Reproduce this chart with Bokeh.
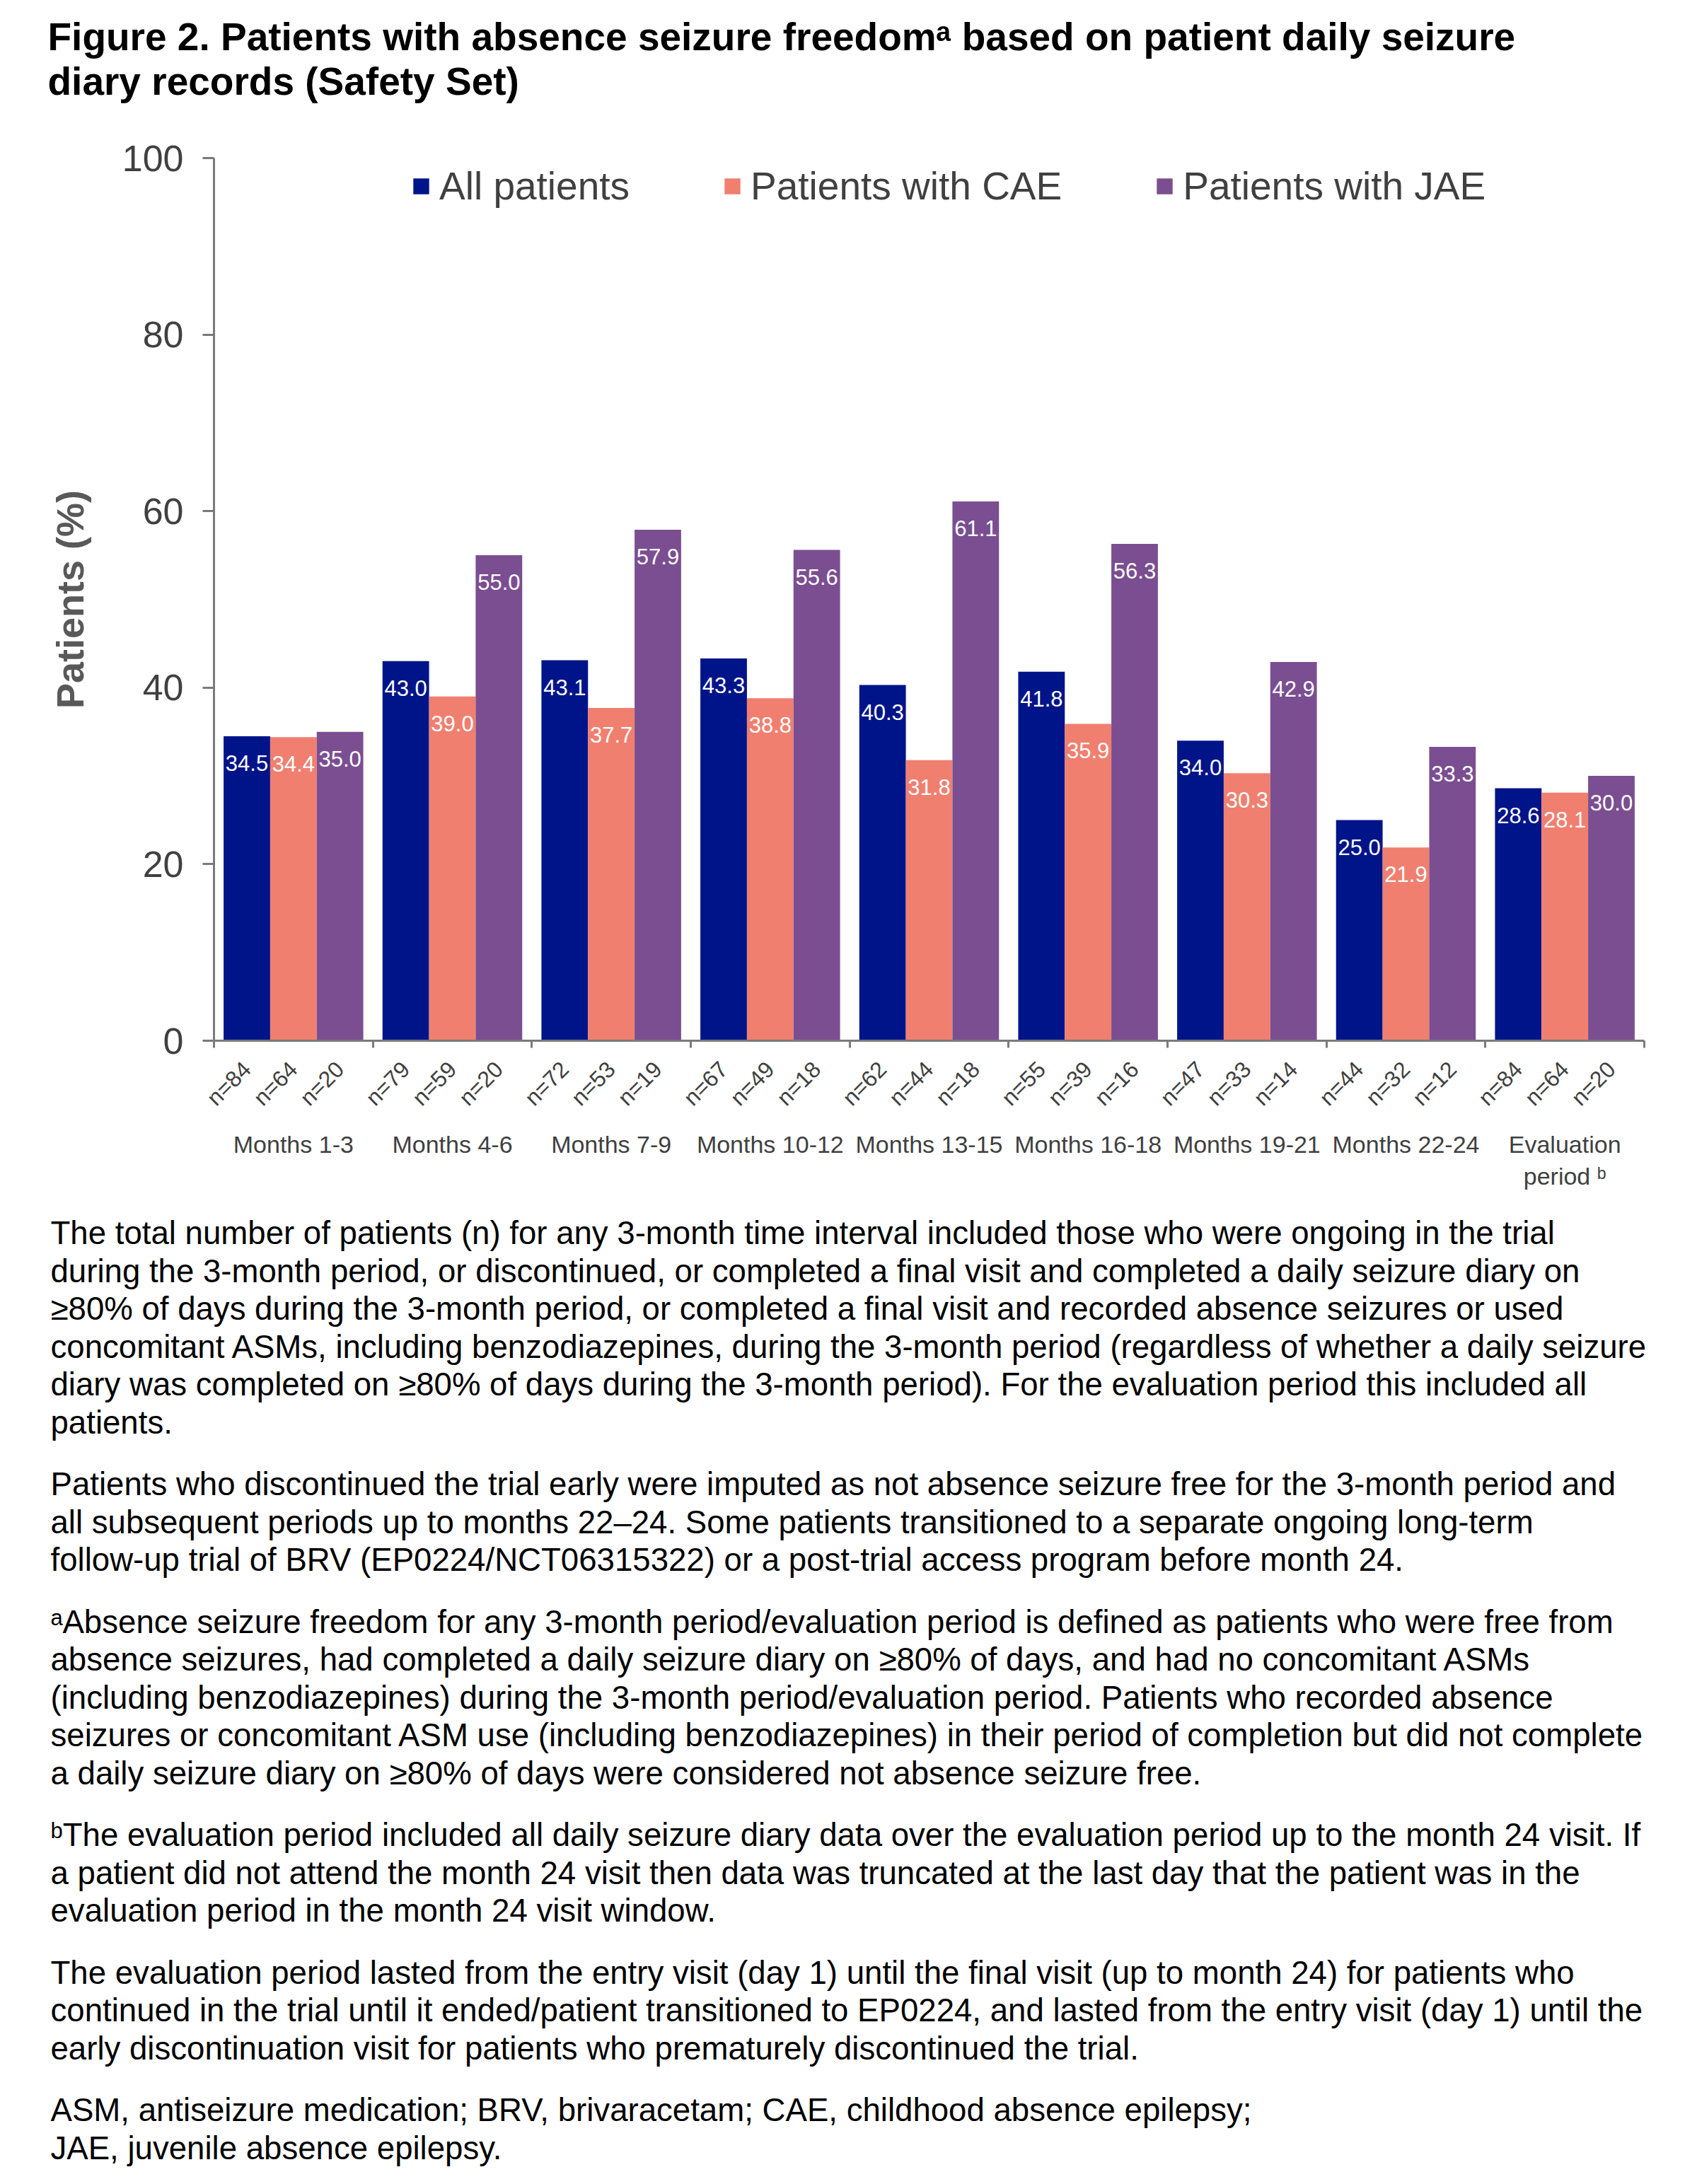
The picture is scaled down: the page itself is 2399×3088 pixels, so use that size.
import math
from bokeh.plotting import figure
from bokeh.layouts import column
from bokeh.models import ColumnDataSource, Range1d, FixedTicker, LabelSet, LinearAxis
from bokeh.core.properties import value
from bokeh.embed import file_html
from bokeh.resources import INLINE

# ---------------- data ----------------
groups = ["Months 1-3", "Months 4-6", "Months 7-9", "Months 10-12", "Months 13-15",
          "Months 16-18", "Months 19-21", "Months 22-24", "Evaluation\nperiod \u1d47"]
series = ["All patients", "Patients with CAE", "Patients with JAE"]
all_pct = [34.5, 43.0, 43.1, 43.3, 40.3, 41.8, 34.0, 25.0, 28.6]
cae_pct = [34.4, 39.0, 37.7, 38.8, 31.8, 35.9, 30.3, 21.9, 28.1]
jae_pct = [35.0, 55.0, 57.9, 55.6, 61.1, 56.3, 42.9, 33.3, 30.0]
all_n = [84, 79, 72, 67, 62, 55, 47, 44, 84]
cae_n = [64, 59, 53, 49, 44, 39, 33, 32, 64]
jae_n = [20, 20, 19, 18, 18, 16, 14, 12, 20]
y_ticks = [0, 20, 40, 60, 80, 100]

title_lines = [
    "Figure 2. Patients with absence seizure freedom\u1d43 based on patient daily seizure",
    "diary records (Safety Set)",
]
paragraphs = [
    ["The total number of patients (n) for any 3-month time interval included those who were ongoing in the trial",
     "during the 3-month period, or discontinued, or completed a final visit and completed a daily seizure diary on",
     "\u226580% of days during the 3-month period, or completed a final visit and recorded absence seizures or used",
     "concomitant ASMs, including benzodiazepines, during the 3-month period (regardless of whether a daily seizure",
     "diary was completed on \u226580% of days during the 3-month period). For the evaluation period this included all",
     "patients."],
    ["Patients who discontinued the trial early were imputed as not absence seizure free for the 3-month period and",
     "all subsequent periods up to months 22\u201324. Some patients transitioned to a separate ongoing long-term",
     "follow-up trial of BRV (EP0224/NCT06315322) or a post-trial access program before month 24."],
    ["\u1d43Absence seizure freedom for any 3-month period/evaluation period is defined as patients who were free from",
     "absence seizures, had completed a daily seizure diary on \u226580% of days, and had no concomitant ASMs",
     "(including benzodiazepines) during the 3-month period/evaluation period. Patients who recorded absence",
     "seizures or concomitant ASM use (including benzodiazepines) in their period of completion but did not complete",
     "a daily seizure diary on \u226580% of days were considered not absence seizure free."],
    ["\u1d47The evaluation period included all daily seizure diary data over the evaluation period up to the month 24 visit. If",
     "a patient did not attend the month 24 visit then data was truncated at the last day that the patient was in the",
     "evaluation period in the month 24 visit window."],
    ["The evaluation period lasted from the entry visit (day 1) until the final visit (up to month 24) for patients who",
     "continued in the trial until it ended/patient transitioned to EP0224, and lasted from the entry visit (day 1) until the",
     "early discontinuation visit for patients who prematurely discontinued the trial."],
    ["ASM, antiseizure medication; BRV, brivaracetam; CAE, childhood absence epilepsy;",
     "JAE, juvenile absence epilepsy."],
]

# ---------------- style / layout ----------------
FONT = "Liberation Sans"
colors = ["#001489", "#F07F6F", "#7B4E91"]
AXIS_GREY = "#7a7a7a"
TEXT_GREY = "#404040"
BAR_W = 0.293                      # bar width as a fraction of a group slot

W = 2381
HT, HC, HN = 175, 1530, 1375       # heights of title strip, chart, notes strip
PL, PT, PR, PB = 302, 223, 2324, 1471   # chart frame on the page


def text_strip(height):
    f = figure(width=W, height=height, x_range=Range1d(0, W), y_range=Range1d(height, 0),
               output_backend="svg", toolbar_location=None, x_axis_location=None,
               y_axis_location=None, title_location=None, min_border=0,
               frame_align=False)
    f.outline_line_color = None
    f.grid.visible = False
    return f


# ---- title strip ----
tf = text_strip(HT)
t_src = ColumnDataSource(dict(x=[67, 67], y=[70.7, 133], t=title_lines))
tf.add_layout(LabelSet(x="x", y="y", text="t", source=t_src, text_font=value(FONT),
                       text_font_size="55px", text_font_style="bold", text_color="black",
                       text_baseline="alphabetic", text_align="left"))

# ---- chart ----
ng = len(groups)
p = figure(x_range=Range1d(0, ng), y_range=Range1d(0, 100), width=W, height=HC,
           output_backend="svg", toolbar_location=None, title_location=None,
           min_border_left=PL, min_border_top=PT - HT, min_border_right=W - PR,
           min_border_bottom=HT + HC - PB, frame_align=False)
p.outline_line_color = None
p.grid.visible = False

values = [all_pct, cae_pct, jae_pct]
counts = [all_n, cae_n, jae_n]
lab_x, lab_y, lab_t, n_t = [], [], [], []
for j, (s, vals, ns, c) in enumerate(zip(series, values, counts, colors)):
    xs = [i + 0.5 + (j - 1) * BAR_W for i in range(ng)]
    src = ColumnDataSource(dict(x=xs, top=vals))
    p.vbar(x="x", top="top", width=BAR_W, source=src, fill_color=c,
           line_color=None, legend_label=s)
    lab_x += xs
    lab_y += vals
    lab_t += ["%.1f" % v for v in vals]
    n_t += ["n=%d" % n for n in ns]

val_src = ColumnDataSource(dict(x=lab_x, y=lab_y, t=lab_t))
p.add_layout(LabelSet(x="x", y="y", text="t", source=val_src, y_offset=-49,
                      text_align="center", text_baseline="alphabetic",
                      text_font=value(FONT), text_font_size="31px", text_color="white"))

# x axis: line with ticks at the group boundaries
bticks = list(range(ng + 1))
xa = p.xaxis[0]
xa.ticker = FixedTicker(ticks=bticks)
xa.major_label_overrides = {t: "" for t in bticks}
xa.major_label_text_color = None
xa.major_label_text_font_size = "1px"
xa.major_label_standoff = 0
xa.axis_line_color = AXIS_GREY
xa.axis_line_width = 3
xa.major_tick_line_color = AXIS_GREY
xa.major_tick_line_width = 3
xa.major_tick_in = 0
xa.major_tick_out = 10
xa.minor_tick_line_color = None

# second row: patient numbers under each bar
nax = LinearAxis(ticker=FixedTicker(ticks=lab_x),
                 major_label_overrides=dict(zip(lab_x, n_t)),
                 major_label_orientation=math.pi / 4)
# third row: period names
gx = [i + 0.5 for i in range(ng)]
gax = LinearAxis(ticker=FixedTicker(ticks=gx),
                 major_label_overrides=dict(zip(gx, groups)))
for ax, size, standoff in ((nax, "32px", 25), (gax, "34px", 13)):
    ax.axis_line_color = None
    ax.major_tick_line_color = None
    ax.minor_tick_line_color = None
    ax.major_tick_in = 0
    ax.major_tick_out = 0
    ax.major_label_standoff = standoff
    ax.major_label_text_font = FONT
    ax.major_label_text_font_size = size
    ax.major_label_text_color = TEXT_GREY
    p.add_layout(ax, "below")

# y axis
ya = p.yaxis[0]
ya.ticker = FixedTicker(ticks=y_ticks)
ya.axis_line_color = AXIS_GREY
ya.axis_line_width = 3
ya.major_tick_line_color = AXIS_GREY
ya.major_tick_line_width = 3
ya.major_tick_in = 0
ya.major_tick_out = 16
ya.minor_tick_line_color = None
ya.major_label_text_font = FONT
ya.major_label_text_font_size = "52px"
ya.major_label_text_color = TEXT_GREY
ya.major_label_standoff = 27
ya.axis_label = "Patients (%)"
ya.axis_label_text_font = FONT
ya.axis_label_text_font_size = "54px"
ya.axis_label_text_font_style = "bold"
ya.axis_label_text_color = "#595959"
ya.axis_label_standoff = 41

# legend
lg = p.legend[0]
lg.orientation = "horizontal"
lg.location = (279, 1176)
lg.padding = 0
lg.margin = 0
lg.border_line_color = None
lg.background_fill_alpha = 0
lg.label_text_font = FONT
lg.label_text_font_size = "55px"
lg.label_text_color = TEXT_GREY
lg.glyph_width = 28
lg.glyph_height = 28
lg.label_standoff = 12
lg.spacing = 131

# ---- notes strip ----
nf = text_strip(HN)
top = HT + HC
LINE, GAP = 53.5, 87.5
ys, ts = [], []
b = 1758.5
for para in paragraphs:
    for li, line in enumerate(para):
        ys.append(b - top)
        ts.append(line)
        b += LINE if li < len(para) - 1 else GAP
n_src = ColumnDataSource(dict(x=[71] * len(ts), y=ys, t=ts))
nf.add_layout(LabelSet(x="x", y="y", text="t", source=n_src, text_font=value(FONT),
                       text_font_size="45.6px", text_color="black",
                       text_baseline="alphabetic", text_align="left"))

layout = column(tf, p, nf, spacing=0)
open("out.html", "w").write(file_html(layout, INLINE))
